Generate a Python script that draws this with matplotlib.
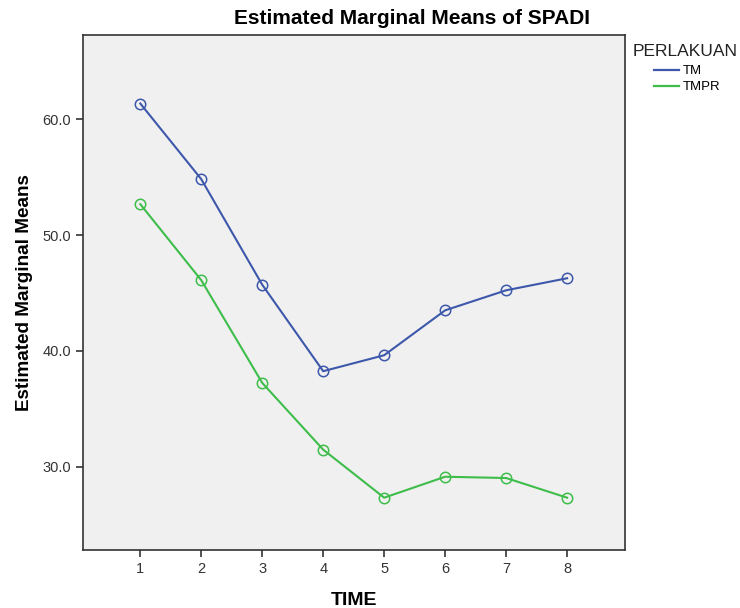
import matplotlib
matplotlib.use("Agg")
import matplotlib.pyplot as plt
from matplotlib.lines import Line2D

plt.rcParams['font.family'] = ['Liberation Sans', 'DejaVu Sans']

time = [1, 2, 3, 4, 5, 6, 7, 8]
tm = [61.38, 54.84, 45.72, 38.25, 39.63, 43.51, 45.24, 46.28]
tmpr = [52.68, 46.11, 37.24, 31.47, 27.32, 29.13, 29.02, 27.32]
series_names = ["TM", "TMPR"]
yticks = [30.0, 40.0, 50.0, 60.0]

c_tm = "#3d58ab"
c_tmpr = "#3ebd4a"

fig = plt.figure(figsize=(7.4, 6.08), dpi=100)
ax = fig.add_axes([83/740, 1-550/608, (625-83)/740, (550-35)/608])
ax.set_facecolor("#f0f0f0")

for vals, col in [(tm, c_tm), (tmpr, c_tmpr)]:
    ax.plot(time, vals, color=col, lw=1.5, marker='o', ms=7.5,
            mfc='none', mec=col, mew=1.1)

ax.set_xlim(0.06, 8.95)
ax.set_ylim(22.8, 67.3)
ax.set_xticks(time)
ax.set_xticklabels([str(t) for t in time])
ax.set_yticks(yticks)
ax.set_yticklabels([f"{v:.1f}" for v in yticks])
ax.tick_params(axis='both', direction='out', length=5, width=1.2,
               labelsize=10.5, labelcolor='#333333', color='#333333')
for s in ax.spines.values():
    s.set_color('#333333')
    s.set_linewidth(1.2)

fig.text(412/740, 1-18.5/608, "Estimated Marginal Means of SPADI",
         fontsize=15, fontweight='bold', ha='center', va='center')
ax.set_xlabel("TIME", fontsize=14, fontweight='bold', labelpad=12)
ax.set_ylabel("Estimated Marginal Means", fontsize=13.6, fontweight='bold',
              labelpad=7)

handles = [Line2D([0], [0], color=c_tm, lw=1.6),
           Line2D([0], [0], color=c_tmpr, lw=1.6)]
fig.text(633/740, 1-52/608, "PERLAKUAN", fontsize=12.5, color='#222222',
         va='center', ha='left')
leg = fig.legend(handles, series_names, loc='upper left',
                 bbox_to_anchor=(654/740, 1-65/608), frameon=False,
                 fontsize=9.5, handlelength=1.9, handletextpad=0.25,
                 labelspacing=0.3, borderaxespad=0, borderpad=0)

fig.savefig("out.png", dpi=100, facecolor='white')
